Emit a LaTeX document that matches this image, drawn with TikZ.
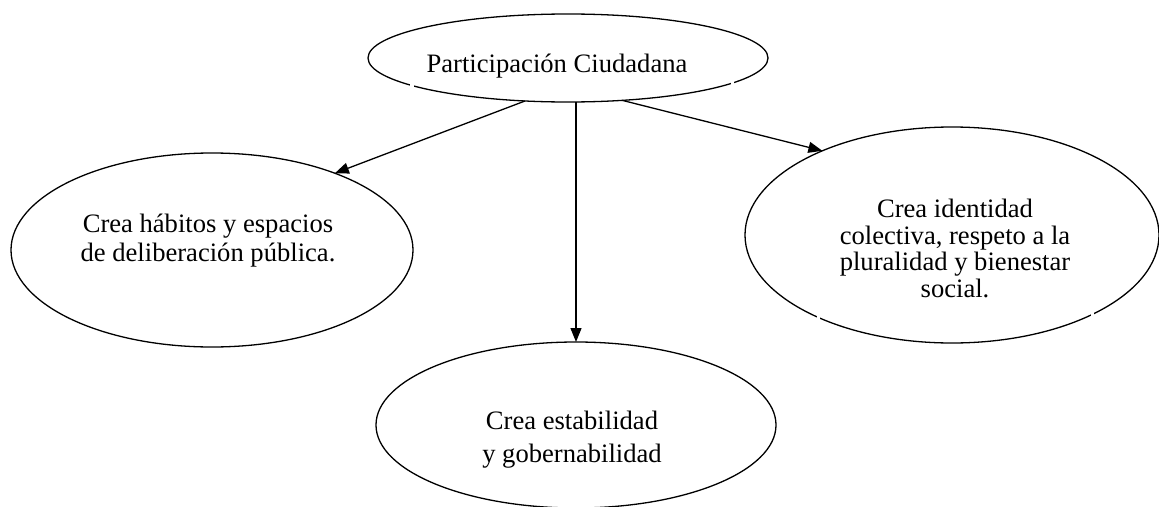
\documentclass[tikz,border=0pt]{standalone}
\usepackage{fontspec}
\setmainfont{Liberation Serif}
\usetikzlibrary{shapes.geometric,arrows.meta}
\begin{document}
\begin{tikzpicture}[x=1pt,y=-1pt,
  bubble/.style={draw=black,line width=1.3pt,ellipse,inner sep=0pt,outer sep=0pt},
  label/.style={inner sep=0pt,align=center,font=\fontsize{26.6}{26.6}\selectfont},
  link/.style={line width=1.3pt,-{Triangle[length=14pt,width=11pt]}},
  gap/.style={fill=white,draw=none}]
\useasboundingbox (0,0) rectangle (1159,506);
\clip (0,0) rectangle (1159,506);
% ellipses
\node[bubble,minimum width=400pt,minimum height=88pt] (top) at (568,58) {};
\node[bubble,minimum width=402pt,minimum height=194pt] (left) at (212,250) {};
\node[bubble,minimum width=414pt,minimum height=216pt] (right) at (952,235) {};
\node[bubble,minimum width=400pt,minimum height=166pt] (bot) at (576,425) {};
% small gaps in the outlines
\fill[gap] (410,78) rectangle (413.5,94);
\fill[gap] (730.5,76) rectangle (734,92);
\fill[gap] (816.5,306) rectangle (820,326);
\fill[gap] (1090.5,306) rectangle (1094,326);
% texts
\node[label,anchor=base] (ttop) at (557,72) {Participación Ciudadana};
\node[label,anchor=center,font=\fontsize{26.6}{29}\selectfont] (tleft) at (208,241) {Crea hábitos y espacios\\de deliberación pública.};
\node[label,anchor=center,font=\fontsize{26.6}{26.4}\selectfont] (tright) at (955,248.4) {Crea identidad\\colectiva, respeto a la\\pluralidad y bienestar\\social.};
\node[label,anchor=center,font=\fontsize{26.6}{33}\selectfont] (tbot) at (572,439.2) {Crea estabilidad\\y gobernabilidad};
% connectors
\draw[link] (top.225.7) -- (left.32.9);
\draw[link] (top.south -| bot.north) -- (bot.north);
\draw[link] (top.-38.2) -- (right.147.2);
\end{tikzpicture}
\end{document}
